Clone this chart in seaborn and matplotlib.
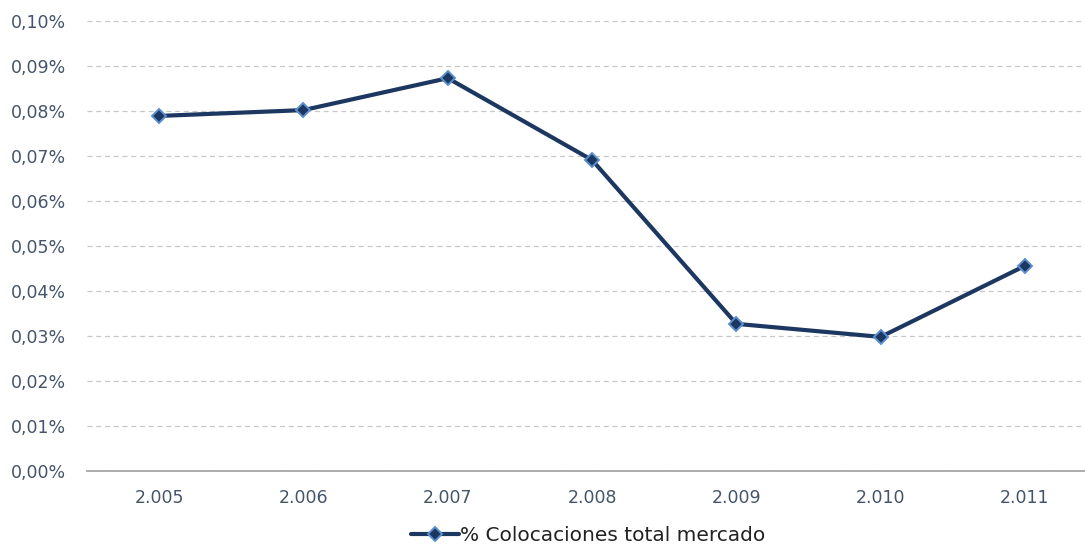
import matplotlib
matplotlib.use("Agg")
import matplotlib.pyplot as plt
import matplotlib.ticker as mticker
import pandas as pd
import seaborn as sns

# data
years = ["2.005", "2.006", "2.007", "2.008", "2.009", "2.010", "2.011"]
pct_colocaciones = [0.0789, 0.0802, 0.0873, 0.0691, 0.0327, 0.0298, 0.0456]
series_name = "% Colocaciones total mercado"

df = pd.DataFrame({"year": years, "value": pct_colocaciones, "serie": series_name})

sns.set_style("white")
plt.rcParams["font.family"] = ["DejaVu Sans"]

TEXT = "#44546A"
NAVY = "#1C3760"
EDGE = "#5B8FD0"

fig = plt.figure(figsize=(10.85, 5.44), dpi=100)
ax = fig.add_axes([0.0802, 0.1342, 0.931, 0.8272])

sns.lineplot(data=df, x="year", y="value", hue="serie", palette=[NAVY],
             marker="D", markersize=7, markerfacecolor=NAVY,
             markeredgecolor=EDGE, markeredgewidth=1.4,
             linewidth=3.0, sort=False, ax=ax, legend=True)

ax.set_ylim(0, 0.10)
ax.set_xlim(-0.5, len(years) - 0.5)
ax.yaxis.set_major_locator(mticker.MultipleLocator(0.01))
ax.yaxis.set_major_formatter(mticker.FuncFormatter(lambda v, p: f"{v:.2f}%".replace(".", ",")))
ax.grid(axis="y", color="#C8C8C8", linestyle=(0, (4, 3)), linewidth=0.9)
ax.set_axisbelow(True)
for s in ["top", "right", "left"]:
    ax.spines[s].set_visible(False)
ax.spines["bottom"].set_color("#A6A6A6")
ax.spines["bottom"].set_linewidth(1.3)
ax.tick_params(axis="both", colors=TEXT, labelsize=12.5, length=0)
ax.tick_params(axis="y", pad=15)
ax.tick_params(axis="x", pad=13)
ax.set_xlabel("")
ax.set_ylabel("")

handles, labels = ax.get_legend_handles_labels()
ax.get_legend().remove()
fig.legend(handles, labels, loc="center", bbox_to_anchor=(0.542, 0.016),
           frameon=False, fontsize=14.5, labelcolor="#222222",
           handlelength=2.4, handletextpad=0.05)

fig.savefig("out.png", dpi=100)
